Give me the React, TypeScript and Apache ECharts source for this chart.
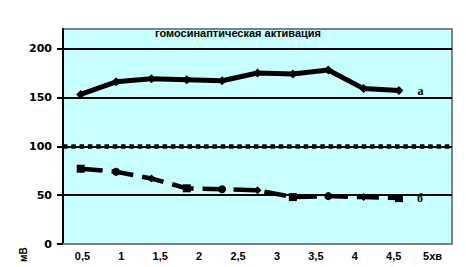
import React, { useEffect, useRef } from "react";
import * as echarts from "echarts";

const xLabels = ["0,5", "1", "1,5", "2", "2,5", "3", "3,5", "4", "4,5", "5хв"];
const pointSlots = ["1", "2", "3", "4", "5", "6", "7", "8", "9", "10", "11"];
const seriesA = [153, 166, 169, 168, 167, 175, 174, 178, 159, 157];
const seriesB = [77, 74, 67, 57, 56, 55, 48, 49, 48, 47];
const symbolsB = ["rect", "circle", "diamond", "rect", "circle", "diamond", "rect", "circle", "diamond", "rect"];
const yTicks = [0, 50, 100, 150, 200];
const gridValues = [50, 150, 200];
const baseline = 100;
const titleText = "гомосинаптическая активация";
const yName = "мВ";
const labelA = "а";
const labelB = "б";

export default function App() {
  const ref = useRef<HTMLDivElement>(null);
  useEffect(() => {
    if (!ref.current) return;
    const chart = echarts.init(ref.current, null, { renderer: "svg" });
    const font = "Liberation Sans";
    const lastLabel = (txt: string) => ({
      show: true,
      formatter: txt,
      position: "right",
      distance: 14,
      fontFamily: "Liberation Serif",
      fontWeight: "bold",
      fontSize: 12,
      color: "#000",
    });
    chart.setOption({
      animation: false,
      backgroundColor: "#fff",
      title: {
        text: titleText,
        left: 233,
        top: 22,
        textAlign: "center",
        textStyle: { fontFamily: font, fontWeight: "bold", fontSize: 11, color: "#000" },
      },
      grid: {
        left: 63,
        right: 14,
        top: 29,
        bottom: 23,
        show: true,
        backgroundColor: "#C8FFFF",
        borderColor: "#808080",
        borderWidth: 2,
      },
      xAxis: [
        {
          type: "category",
          data: xLabels,
          boundaryGap: true,
          axisLine: { lineStyle: { color: "#808080", width: 2 } },
          axisTick: { show: false },
          axisLabel: { fontFamily: font, fontWeight: "bold", fontSize: 11, color: "#000", margin: 6, interval: 0 },
        },
        {
          type: "category",
          data: pointSlots,
          boundaryGap: true,
          show: false,
        },
      ],
      yAxis: {
        type: "value",
        min: 0,
        max: 220,
        interval: 50,
        axisLine: { show: true, lineStyle: { color: "#000", width: 2 } },
        axisTick: { show: true, length: 6, customValues: yTicks, lineStyle: { color: "#000", width: 2 } },
        axisLabel: { customValues: yTicks, fontFamily: "DejaVu Sans", fontWeight: "bold", fontSize: 11, color: "#000", margin: 11 },
        splitLine: { show: false },
      },
      graphic: [
        {
          type: "text",
          x: 18,
          y: 262,
          rotation: Math.PI / 2,
          style: { text: yName, fontFamily: font, fontWeight: "bold", fontSize: 10, fill: "#000" },
        },
      ],
      series: [
        {
          type: "line",
          xAxisIndex: 0,
          data: [],
          markLine: {
            silent: true,
            symbol: "none",
            label: { show: false },
            data: [
              ...gridValues.map((v) => ({ yAxis: v, lineStyle: { color: "#000", width: 2, type: "solid" } })),
              { yAxis: baseline, lineStyle: { color: "#000", width: 2, type: "solid" } },
              { yAxis: baseline, lineStyle: { color: "#000", width: 4.5, type: [4.5, 3.8] } },
            ],
          },
        },
        {
          type: "line",
          xAxisIndex: 1,
          data: seriesA.map((v, i) => (i === seriesA.length - 1 ? { value: v, label: lastLabel(labelA) } : v)),
          symbol: "diamond",
          symbolSize: 9,
          lineStyle: { color: "#000", width: 5 },
          itemStyle: { color: "#000" },
        },
        {
          type: "line",
          xAxisIndex: 1,
          data: seriesB.map((v, i) => ({
            value: v,
            symbol: symbolsB[i],
            ...(i === seriesB.length - 1 ? { label: lastLabel(labelB) } : {}),
          })),
          symbolSize: 8,
          lineStyle: { color: "#000", width: 4.5, type: [22, 9] },
          itemStyle: { color: "#000" },
        },
      ],
    });
    return () => chart.dispose();
  }, []);
  return <div ref={ref} style={{ width: 466, height: 267, position: "absolute", left: 0, top: 0 }} />;
}
